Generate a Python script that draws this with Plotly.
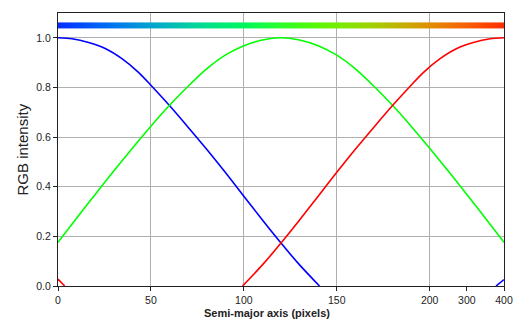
import numpy as np
import plotly.graph_objects as go

# values
blue_x = [0, 7.5, 16.5, 25.4, 34.4, 43.3, 50, 59.5, 70, 80, 90, 100, 110, 120, 130, 140.7, None, 235.7, 240]
blue_y = [1.0, 0.996, 0.981, 0.957, 0.916, 0.861, 0.809, 0.731, 0.64, 0.551, 0.458, 0.362, 0.266, 0.173, 0.085, 0.0, None, 0.0, 0.026]

green_x = [0, 10, 20, 30, 40, 50, 60, 70, 80, 90, 100, 110, 120,
           130, 140, 150, 160, 170, 180, 190, 200, 210, 220, 230, 240]
green_y = [0.176, 0.273, 0.369, 0.463, 0.555, 0.644, 0.728, 0.805, 0.875, 0.93, 0.968, 0.991, 1.0,
           0.991, 0.968, 0.93, 0.875, 0.805, 0.728, 0.644, 0.555, 0.463, 0.369, 0.273, 0.176]

red_x = [0, 3.6, None, 99.3, 110, 120, 130, 140, 150, 160, 170, 180.5, 190, 196.7, 205.6, 214.6, 223.5, 232.5, 240]
red_y = [0.028, 0.0, None, 0.0, 0.085, 0.173, 0.266, 0.362, 0.458, 0.551, 0.64, 0.731, 0.809, 0.861, 0.916, 0.957, 0.981, 0.996, 1.0]

bar_level = 1.05
x_ticks = [0, 50, 100, 150, 200]
x_ticks_extra = [220, 240]
x_ticks_extra_text = ["300", "400"]
y_ticks = [0.0, 0.2, 0.4, 0.6, 0.8, 1.0]


def clean(xs, ys):
    return [(a, b) for a, b in zip(xs, ys) if a is not None]


# colour of the bar = the three curves combined
bx, by = zip(*clean(blue_x, blue_y))
rx, ry = zip(*clean(red_x, red_y))
cols = []
for xv in green_x:
    r = np.interp(xv, rx, ry)
    g = np.interp(xv, green_x, green_y)
    b = np.interp(xv, bx, by)
    cols.append(f"rgb({int(r*255)},{int(g*255)},{int(b*255)})")
cscale = [[xv / green_x[-1], c] for xv, c in zip(green_x, cols)]

font = "Liberation Sans"
fig = go.Figure()

fig.add_trace(go.Heatmap(
    x=green_x, y=[bar_level - 0.006, bar_level + 0.006],
    z=[green_x, green_x], colorscale=cscale, zsmooth="best",
    showscale=False, hoverinfo="skip"))

for xs, ys, c in [(blue_x, blue_y, "#0000ff"), (green_x, green_y, "#00ff00"), (red_x, red_y, "#ff0000")]:
    fig.add_trace(go.Scatter(x=xs, y=ys, mode="lines",
                             line=dict(color=c, width=1.6, shape="spline", smoothing=0.8),
                             connectgaps=False, showlegend=False))

# second x axis only for the odd 300 / 400 labels
fig.add_trace(go.Scatter(x=[0, 240], y=[0, 0], xaxis="x2", mode="markers",
                         marker=dict(opacity=0), showlegend=False, hoverinfo="skip"))

# page body has an 8px margin, so the figure is a bit smaller and shifted
fig.update_layout(
    width=519, height=318,
    margin=dict(l=50, r=23, t=5, b=40),
    paper_bgcolor="white", plot_bgcolor="white",
    font=dict(family=font, size=10.5, color="#222"),
    xaxis=dict(range=[0, 240], tickvals=x_ticks, showgrid=True, gridcolor="#b0b0b0", gridwidth=1,
               zeroline=False, showline=True, linecolor="#222", linewidth=1, mirror=True,
               ticks="outside", ticklen=4, tickcolor="#222"),
    xaxis2=dict(range=[0, 240], overlaying="x", side="bottom", anchor="y",
                tickvals=x_ticks_extra, ticktext=x_ticks_extra_text, showgrid=False,
                zeroline=False, showline=False, ticks="outside", ticklen=4, tickcolor="#222"),
    yaxis=dict(range=[0, 1.1], tickvals=y_ticks, tickformat=".1f", showgrid=True,
               gridcolor="#b0b0b0", gridwidth=1, zeroline=False, showline=True,
               linecolor="#222", linewidth=1, mirror=True, ticks="outside", ticklen=4,
               tickcolor="#222"),
    annotations=[
        dict(text="<b>Semi-major axis (pixels)</b>", xref="paper", yref="paper", x=0.468, y=0,
             yshift=-27, xanchor="center", yanchor="middle", showarrow=False,
             font=dict(family=font, size=11, color="#222")),
        dict(text="RGB intensity", xref="paper", yref="paper", x=0, y=0.5, xshift=-36,
             textangle=-90, xanchor="center", yanchor="middle", showarrow=False,
             font=dict(family=font, size=15, color="#222")),
    ],
)

fig.write_html("out.html")
